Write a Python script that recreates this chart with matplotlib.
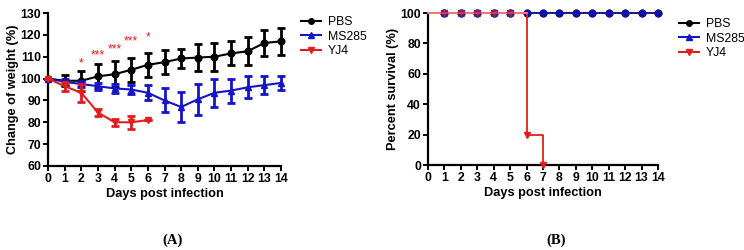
import matplotlib
matplotlib.use("Agg")
import matplotlib.pyplot as plt
from matplotlib.lines import Line2D

plt.rcParams['font.family'] = ['Liberation Sans', 'DejaVu Sans']

# ---------------- data ----------------
days = list(range(0, 15))
pbs_w = [100, 99, 99, 101, 102, 104, 106.3, 107.5, 109.2, 109.6, 110, 111.5, 112.5, 116.3, 117]
pbs_e = [0, 2.5, 4.5, 5.5, 6, 5.5, 5.5, 5.5, 4.5, 6, 6.5, 5.5, 6.5, 6, 6]
ms_w = [100, 98.5, 97.5, 96.5, 95.5, 95, 93.5, 90, 87, 90.5, 93.5, 94.5, 96, 97, 98]
ms_e = [0, 1.5, 1.5, 1.5, 2, 2, 3.5, 5.5, 7, 7, 6.5, 5.5, 5, 4, 3]
yj_days = [0, 1, 2, 3, 4, 5, 6]
yj_w = [100, 96.5, 93.5, 84.5, 80, 80, 81]
yj_e = [0, 2, 4, 1.5, 1.5, 3, 0]

star_days = [2, 3, 4, 5, 6]
star_labels = ['*', '***', '***', '***', '*']
star_y = [107, 110.5, 113.5, 117, 119]

surv_days = list(range(1, 15))
pbs_s = [100] * 14
ms_s = [100] * 14
yj_s_days = [0, 1, 2, 3, 4, 5, 6, 7]
yj_s = [100, 100, 100, 100, 100, 100, 20, 0]

series_names = ['PBS', 'MS285', 'YJ4']
# --------------------------------------

BLACK = '#000000'
BLUE = '#1414c8'
RED = '#e01e1e'
colors = [BLACK, BLUE, RED]
markers = ['o', '^', 'v']

TICK_FS = 8.8
LAB_FS = 9.2
LEG_FS = 8.8

W, H = 744, 250
fig = plt.figure(figsize=(W / 100, H / 100), dpi=100)


def px_axes(l, t, r, b):
    return fig.add_axes([l / W, 1 - b / H, (r - l) / W, (b - t) / H])


def style(ax):
    for s in ['top', 'right']:
        ax.spines[s].set_visible(False)
    for s in ['left', 'bottom']:
        ax.spines[s].set_linewidth(1.6)
    ax.tick_params(direction='out', length=3.5, width=1.4, labelsize=TICK_FS, pad=1.5)
    for lab in ax.get_xticklabels() + ax.get_yticklabels():
        lab.set_fontweight('bold')


eb_kw = dict(ms=4.8, lw=1.5, elinewidth=2.0, capsize=3, capthick=2.0, clip_on=False)

# ---- Panel A ----
axA = px_axes(48, 13, 281, 166)
axA.errorbar(days, pbs_w, yerr=pbs_e, color=BLACK, marker='o', zorder=3, **eb_kw)
axA.errorbar(days, ms_w, yerr=ms_e, color=BLUE, marker='^', zorder=4, **eb_kw)
axA.errorbar(yj_days, yj_w, yerr=yj_e, color=RED, marker='v', zorder=5, **eb_kw)
for d, lab, y in zip(star_days, star_labels, star_y):
    axA.text(d, y, lab, color=RED, fontsize=8.8, ha='center', va='center')
axA.set_xlim(0, 14)
axA.set_ylim(60, 130)
axA.set_xticks(days)
axA.set_yticks(range(60, 131, 10))
axA.set_xlabel('Days post infection', fontsize=LAB_FS, fontweight='bold', labelpad=2)
axA.set_ylabel('Change of weight (%)', fontsize=LAB_FS, fontweight='bold', labelpad=1)
style(axA)

# ---- Panel B ----
axB = px_axes(428, 13, 658, 165)
axB.plot(surv_days, pbs_s, color=BLACK, marker='o', ms=4.8, lw=1.2, clip_on=False, zorder=3)
axB.plot([0] + surv_days, [100] + ms_s, color=BLUE, lw=1.3, alpha=0.6,
         clip_on=False, zorder=4)
axB.plot(surv_days, ms_s, color=BLUE, marker='o', ms=4.8, lw=0, alpha=0.75,
         clip_on=False, zorder=4)
axB.step(yj_s_days, yj_s, where='post', color=RED, lw=1.3, clip_on=False, zorder=5)
axB.plot([0, 6], [100, 100], color='#f08080', lw=1.3, clip_on=False, zorder=5.5)
axB.plot(yj_s_days[1:], yj_s[1:], color=RED, marker='v', ms=4.8, lw=0, clip_on=False, zorder=5)
axB.plot(surv_days[:5], pbs_s[:5], color='#6a1a6a', marker='s', ms=4, lw=0,
         alpha=0.5, clip_on=False, zorder=6)
axB.set_xlim(0, 14)
axB.set_ylim(0, 100)
axB.set_xticks(range(0, 15))
axB.set_yticks(range(0, 101, 20))
axB.set_xlabel('Days post infection', fontsize=LAB_FS, fontweight='bold', labelpad=2)
axB.set_ylabel('Percent survival (%)', fontsize=LAB_FS, fontweight='bold', labelpad=1)
style(axB)

# ---- legends ----
handles = [Line2D([0], [0], color=c, marker=m, ms=4, lw=1.5) for c, m in zip(colors, markers)]
for x0, y0 in [(295, 10), (673, 12)]:
    fig.legend(handles, series_names, loc='upper left',
               bbox_to_anchor=(x0 / W, 1 - y0 / H), frameon=False, fontsize=LEG_FS,
               handlelength=1.6, handletextpad=0.6, labelspacing=0.2, borderpad=0)

# ---- panel letters ----
for xc, lab in [(173, '(A)'), (556, '(B)')]:
    fig.text(xc / W, 1 - 240 / H, lab, family=['Liberation Serif', 'DejaVu Serif'],
             fontweight='bold', fontsize=10.5, ha='center', va='center')

fig.savefig('out.png', dpi=100)
